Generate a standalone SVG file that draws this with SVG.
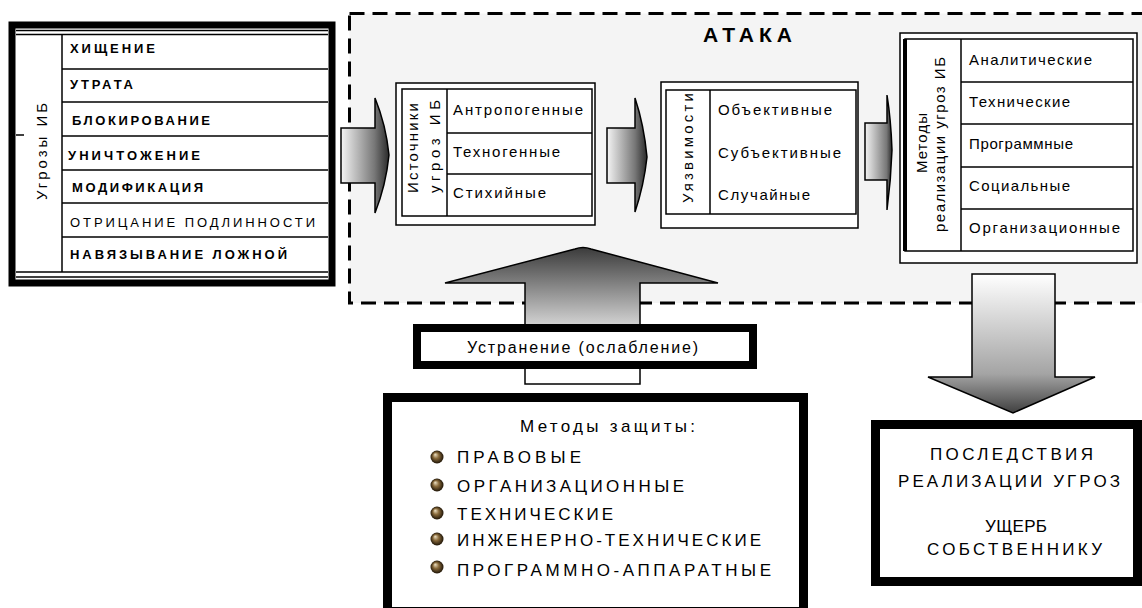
<svg xmlns="http://www.w3.org/2000/svg" width="1142" height="608" viewBox="0 0 1142 608">
<defs>
<style>
text{font-family:"Liberation Sans",Arial,sans-serif;fill:#000}
.thin{fill:#fff;stroke:#000;stroke-width:1.5}
.ln{stroke:#000;stroke-width:1.5;fill:none}
.lt{font-size:13px;font-weight:bold}
.lt2{font-size:13px}
.it{font-size:15px}
.cap{font-size:17px}
.arr{stroke:#000;stroke-width:1.5}
</style>
<linearGradient id="gH1" gradientUnits="userSpaceOnUse" x1="341" y1="0" x2="389" y2="0"><stop offset="0" stop-color="#f4f4f4"/><stop offset="0.7" stop-color="#777"/><stop offset="1" stop-color="#2a2a2a"/></linearGradient>
<linearGradient id="gH2" gradientUnits="userSpaceOnUse" x1="607" y1="0" x2="647" y2="0"><stop offset="0" stop-color="#f4f4f4"/><stop offset="0.7" stop-color="#777"/><stop offset="1" stop-color="#2a2a2a"/></linearGradient>
<linearGradient id="gH3" gradientUnits="userSpaceOnUse" x1="865" y1="0" x2="892" y2="0"><stop offset="0" stop-color="#f4f4f4"/><stop offset="0.8" stop-color="#777"/><stop offset="1" stop-color="#2a2a2a"/></linearGradient>
<linearGradient id="gUp" gradientUnits="userSpaceOnUse" x1="0" y1="248" x2="0" y2="326"><stop offset="0" stop-color="#3c3c3c"/><stop offset="1" stop-color="#d4d4d4"/></linearGradient>
<linearGradient id="gDn" gradientUnits="userSpaceOnUse" x1="0" y1="274" x2="0" y2="413"><stop offset="0" stop-color="#ffffff"/><stop offset="0.72" stop-color="#a4a4a4"/><stop offset="1" stop-color="#404040"/></linearGradient>
<radialGradient id="ball" cx="0.5" cy="0.5" r="0.5" fx="0.35" fy="0.3"><stop offset="0" stop-color="#efe4c8"/><stop offset="0.45" stop-color="#8a6b3c"/><stop offset="1" stop-color="#1e1406"/></radialGradient>
</defs>
<rect width="1142" height="608" fill="#fff"/>

<g id="attack">
<rect x="349.5" y="13.5" width="800" height="289.5" fill="#f4f4f4" stroke="#000" stroke-width="3" stroke-dasharray="15 8"/>
<text x="703" y="42" font-size="21" font-weight="bold" textLength="89" lengthAdjust="spacing">АТАКА</text>
</g>

<g id="threats">
<rect x="12" y="25" width="320" height="258" fill="#fff" stroke="#000" stroke-width="7"/>
<line class="ln" x1="16" y1="30.5" x2="328" y2="30.5"/>
<line class="ln" x1="16" y1="34.5" x2="328" y2="34.5"/>
<line class="ln" x1="16" y1="272" x2="328" y2="272"/>
<line class="ln" x1="16" y1="277" x2="328" y2="277"/>
<line class="ln" x1="62" y1="34.5" x2="62" y2="272"/>
<line class="ln" x1="16" y1="135" x2="24" y2="135"/>
<line class="ln" x1="62" y1="69" x2="328" y2="69"/>
<line class="ln" x1="62" y1="102" x2="328" y2="102"/>
<line class="ln" x1="62" y1="136" x2="328" y2="136"/>
<line class="ln" x1="62" y1="170" x2="328" y2="170"/>
<line class="ln" x1="62" y1="203" x2="328" y2="203"/>
<line class="ln" x1="62" y1="237" x2="328" y2="237"/>
<text class="it" transform="translate(47,200) rotate(-90)" textLength="97" lengthAdjust="spacing">Угрозы ИБ</text>
<text class="lt" x="70" y="53" textLength="85" lengthAdjust="spacing">ХИЩЕНИЕ</text>
<text class="lt" x="70" y="89" textLength="63" lengthAdjust="spacing">УТРАТА</text>
<text class="lt" x="72" y="125" textLength="138" lengthAdjust="spacing">БЛОКИРОВАНИЕ</text>
<text class="lt" x="68" y="160" textLength="132" lengthAdjust="spacing">УНИЧТОЖЕНИЕ</text>
<text class="lt" x="72" y="192" textLength="131" lengthAdjust="spacing">МОДИФИКАЦИЯ</text>
<text class="lt2" x="70" y="227" textLength="245" lengthAdjust="spacing">ОТРИЦАНИЕ ПОДЛИННОСТИ</text>
<text class="lt" x="70" y="259" textLength="217" lengthAdjust="spacing">НАВЯЗЫВАНИЕ ЛОЖНОЙ</text>
</g>

<g id="sources">
<rect class="thin" x="396" y="83" width="199" height="142"/>
<rect class="thin" x="402" y="89" width="190" height="127"/>
<line class="ln" x1="447" y1="89" x2="447" y2="216"/>
<line class="ln" x1="447" y1="133" x2="592" y2="133"/>
<line class="ln" x1="447" y1="174" x2="592" y2="174"/>
<text class="it" transform="translate(418,193) rotate(-90)" textLength="90" lengthAdjust="spacing">Источники</text>
<text class="it" transform="translate(440,193) rotate(-90)" textLength="93" lengthAdjust="spacing">угроз ИБ</text>
<text class="it" x="453" y="115" textLength="130" lengthAdjust="spacing">Антропогенные</text>
<text class="it" x="453" y="157" textLength="107" lengthAdjust="spacing">Техногенные</text>
<text class="it" x="453" y="198" textLength="93" lengthAdjust="spacing">Стихийные</text>
</g>

<g id="vulnerabilities">
<rect class="thin" x="661" y="82" width="197" height="146"/>
<rect class="thin" x="666" y="90" width="190" height="124"/>
<line class="ln" x1="710" y1="90" x2="710" y2="214"/>
<text class="it" transform="translate(693,203) rotate(-90)" textLength="110" lengthAdjust="spacing">Уязвимости</text>
<text class="it" x="718" y="115" textLength="114" lengthAdjust="spacing">Объективные</text>
<text class="it" x="718" y="158" textLength="123" lengthAdjust="spacing">Субъективные</text>
<text class="it" x="718" y="200" textLength="92" lengthAdjust="spacing">Случайные</text>
</g>

<g id="methods-impl">
<rect class="thin" x="900" y="33" width="237" height="230"/>
<rect class="thin" x="905" y="39" width="228" height="212"/>
<line x1="905" y1="39" x2="905" y2="251" stroke="#000" stroke-width="4"/>
<line class="ln" x1="961" y1="39" x2="961" y2="251"/>
<line class="ln" x1="961" y1="82" x2="1133" y2="82"/>
<line class="ln" x1="961" y1="124" x2="1133" y2="124"/>
<line class="ln" x1="961" y1="167" x2="1133" y2="167"/>
<line class="ln" x1="961" y1="209" x2="1133" y2="209"/>
<text class="it" transform="translate(927,173) rotate(-90)" textLength="60" lengthAdjust="spacing">Методы</text>
<text class="it" transform="translate(945,232) rotate(-90)" textLength="175" lengthAdjust="spacing">реализации угроз ИБ</text>
<text class="it" x="969" y="65" textLength="123" lengthAdjust="spacing">Аналитические</text>
<text class="it" x="969" y="107" textLength="101" lengthAdjust="spacing">Технические</text>
<text class="it" x="969" y="149" textLength="104" lengthAdjust="spacing">Программные</text>
<text class="it" x="969" y="191" textLength="101" lengthAdjust="spacing">Социальные</text>
<text class="it" x="969" y="233" textLength="151" lengthAdjust="spacing">Организационные</text>
</g>

<g id="connectors">
<path class="arr" fill="url(#gH1)" d="M341,128 H375 V98 Q386,125 389,155 Q386,185 375,213 V183 H341 Z"/>
<path class="arr" fill="url(#gH2)" d="M607,128 H635 V98 Q644,125 647,157 Q644,185 635,212 V183 H607 Z"/>
<path class="arr" fill="url(#gH3)" d="M865,123 H887 V95 Q891,120 892,150 Q891,180 887,210 V180 H865 Z"/>
<path class="arr" fill="url(#gUp)" d="M525,326 V283 H445 L575,249 Q583,246 591,249 L718,283 H640 V326 Z"/>
<rect class="thin" x="525" y="368" width="115" height="16"/>
<path class="arr" fill="url(#gDn)" d="M972,274 H1055 V377 H1095 L1013,413 L928,377 H972 Z"/>
</g>

<g id="elimination">
<rect x="417" y="328" width="336" height="37" fill="#fff" stroke="#000" stroke-width="8"/>
<text class="it" x="467" y="353" font-size="16" textLength="231" lengthAdjust="spacing" style="font-size:16px">Устранение (ослабление)</text>
</g>

<g id="protection">
<rect x="387.5" y="397.5" width="416" height="214" fill="#fff" stroke="#000" stroke-width="9"/>
<text class="cap" x="520" y="432" textLength="175" lengthAdjust="spacing">Методы защиты:</text>
<circle cx="437" cy="457" r="6.5" fill="url(#ball)"/>
<circle cx="437" cy="485" r="6.5" fill="url(#ball)"/>
<circle cx="437" cy="513" r="6.5" fill="url(#ball)"/>
<circle cx="437" cy="539" r="6.5" fill="url(#ball)"/>
<circle cx="437" cy="567" r="6.5" fill="url(#ball)"/>
<text class="cap" x="457" y="463" textLength="124" lengthAdjust="spacing">ПРАВОВЫЕ</text>
<text class="cap" x="457" y="492" textLength="227" lengthAdjust="spacing">ОРГАНИЗАЦИОННЫЕ</text>
<text class="cap" x="457" y="520" textLength="156" lengthAdjust="spacing">ТЕХНИЧЕСКИЕ</text>
<text class="cap" x="457" y="546" textLength="304" lengthAdjust="spacing">ИНЖЕНЕРНО-ТЕХНИЧЕСКИЕ</text>
<text class="cap" x="457" y="576" textLength="314" lengthAdjust="spacing">ПРОГРАММНО-АППАРАТНЫЕ</text>
</g>

<g id="consequences">
<rect x="875.5" y="424.5" width="262" height="157" fill="#fff" stroke="#000" stroke-width="9"/>
<text class="cap" x="930" y="460" textLength="163" lengthAdjust="spacing">ПОСЛЕДСТВИЯ</text>
<text class="cap" x="898" y="487" textLength="222" lengthAdjust="spacing">РЕАЛИЗАЦИИ УГРОЗ</text>
<text class="cap" x="985" y="532" textLength="62" lengthAdjust="spacing">УЩЕРБ</text>
<text class="cap" x="927" y="555" textLength="175" lengthAdjust="spacing">СОБСТВЕННИКУ</text>
</g>
</svg>
